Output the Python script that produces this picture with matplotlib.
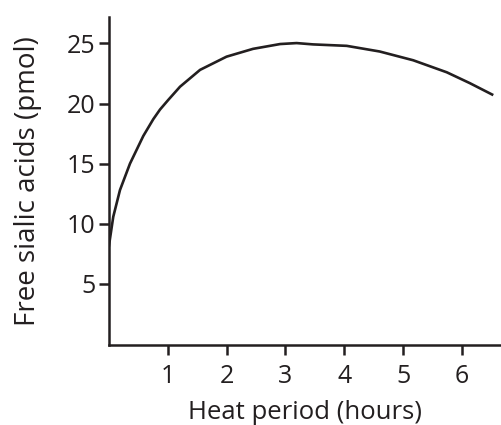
import matplotlib
matplotlib.use("Agg")
import matplotlib.pyplot as plt

# Data
hours = [0.0, 0.076, 0.19, 0.36, 0.586, 0.756, 0.87, 1.01, 1.21, 1.55, 2.0,
         2.45, 2.91, 3.19, 3.47, 4.04, 4.6, 5.17, 5.74, 6.13, 6.53]
sialic = [8.08, 10.58, 12.8, 15.0, 17.3, 18.7, 19.5, 20.3, 21.4, 22.8, 23.9,
          24.55, 24.95, 25.03, 24.92, 24.8, 24.33, 23.6, 22.6, 21.7, 20.7]
xticks = [1, 2, 3, 4, 5, 6]
yticks = [5, 10, 15, 20, 25]
xlabel = "Heat period (hours)"
ylabel = "Free sialic acids (pmol)"

plt.rcParams['font.family'] = ['Open Sans', 'DejaVu Sans']
ink = '#231f20'

fig = plt.figure(figsize=(5.02, 4.25), dpi=100)
ax = fig.add_axes([0.2167, 0.188, 0.78, 0.772])
ax.plot(hours, sialic, color=ink, lw=1.9, solid_capstyle='butt',
        solid_joinstyle='round')
ax.set_xlim(0, 6.65)
ax.set_ylim(-0.1, 27.2)
ax.set_xticks(xticks)
ax.set_yticks(yticks)
ax.set_xticklabels([str(t) for t in xticks])
ax.set_yticklabels([str(t) for t in yticks])
for s in ['top', 'right']:
    ax.spines[s].set_visible(False)
for s in ['left', 'bottom']:
    ax.spines[s].set_linewidth(1.8)
    ax.spines[s].set_color(ink)
ax.tick_params(axis='both', direction='out', length=7.5, width=1.8,
               color=ink, labelsize=18, labelcolor=ink)
ax.tick_params(axis='y', pad=2)
ax.tick_params(axis='x', pad=6)
ax.set_xlabel(xlabel, fontsize=18.5, color=ink, labelpad=8)
ax.set_ylabel(ylabel, fontsize=20, color=ink, labelpad=18)
fig.savefig("out.png", dpi=100)
